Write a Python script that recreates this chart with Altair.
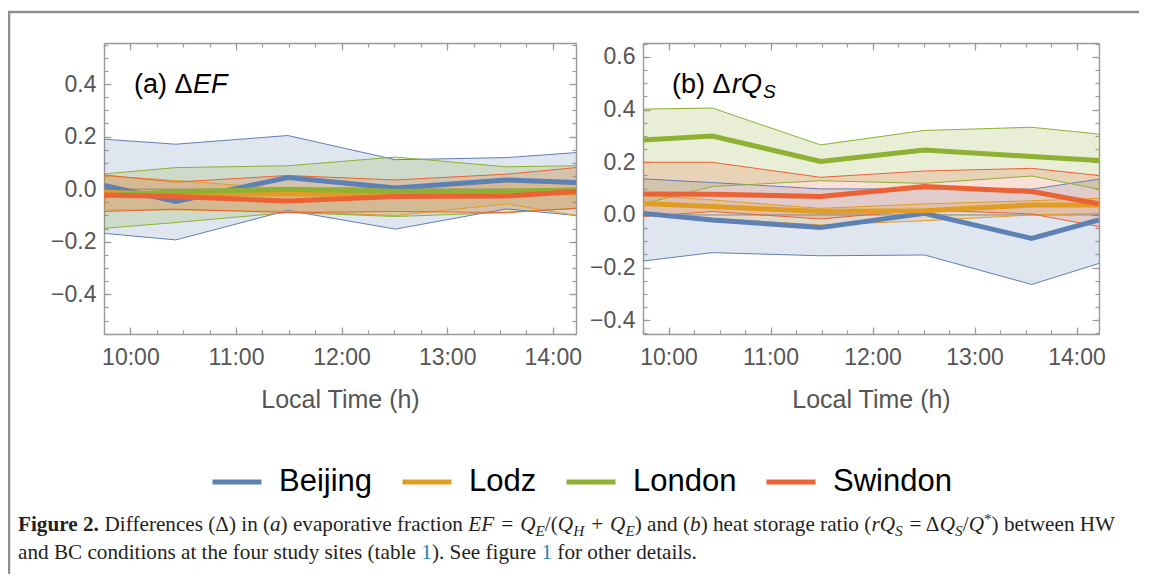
import altair as alt
import pandas as pd

# ---------------- data ----------------
sites = ["Beijing", "Lodz", "London", "Swindon"]
site_colors = ["#5E81B5", "#E19C24", "#8FB032", "#EB6235"]
times = [9.75, 10.43, 11.49, 12.51, 13.56, 14.22]

# (a) delta EF
ef_mean = {
    "Beijing": [0.014, -0.047, 0.044, 0.004, 0.035, 0.025],
    "Lodz":    [-0.013, -0.018, -0.018, -0.020, -0.010, -0.015],
    "London":  [-0.025, -0.010, 0.000, -0.008, -0.008, -0.003],
    "Swindon": [-0.022, -0.028, -0.045, -0.028, -0.026, -0.009],
}
ef_lo = {
    "Beijing": [-0.168, -0.193, -0.081, -0.152, -0.075, -0.100],
    "Lodz":    [-0.079, -0.079, -0.085, -0.100, -0.056, -0.100],
    "London":  [-0.149, -0.127, -0.089, -0.104, -0.089, -0.073],
    "Swindon": [-0.085, -0.076, -0.089, -0.085, -0.089, -0.073],
}
ef_hi = {
    "Beijing": [0.190, 0.171, 0.204, 0.112, 0.120, 0.139],
    "Lodz":    [0.051, 0.033, 0.000, 0.012, 0.028, 0.018],
    "London":  [0.058, 0.082, 0.089, 0.122, 0.085, 0.089],
    "Swindon": [0.054, 0.027, 0.052, 0.035, 0.057, 0.082],
}

# (b) delta rQS
rq_mean = {
    "Beijing": [0.006, -0.019, -0.048, 0.006, -0.089, -0.019],
    "Lodz":    [0.044, 0.032, 0.013, 0.016, 0.038, 0.038],
    "London":  [0.285, 0.300, 0.203, 0.247, 0.222, 0.207],
    "Swindon": [0.080, 0.079, 0.070, 0.108, 0.089, 0.042],
}
rq_lo = {
    "Beijing": [-0.175, -0.143, -0.155, -0.152, -0.264, -0.184],
    "Lodz":    [0.000, -0.013, -0.038, -0.022, 0.000, 0.006],
    "London":  [0.042, 0.108, 0.130, 0.120, 0.148, 0.098],
    "Swindon": [-0.006, 0.013, -0.015, 0.019, 0.004, -0.044],
}
rq_hi = {
    "Beijing": [0.137, 0.123, 0.099, 0.099, 0.098, 0.136],
    "Lodz":    [0.076, 0.057, 0.025, 0.042, 0.054, 0.063],
    "London":  [0.402, 0.406, 0.266, 0.321, 0.333, 0.307],
    "Swindon": [0.200, 0.200, 0.143, 0.167, 0.177, 0.150],
}

x_domain = [9.75, 14.22]
ef_domain = [-0.551, 0.556]
rq_domain = [-0.452, 0.653]
hour_ticks = [10, 11, 12, 13, 14]
quarter_ticks = [10 + 0.25 * i for i in range(-1, 17)]
ef_major = [-0.4, -0.2, 0.0, 0.2, 0.4]
rq_major = [-0.4, -0.2, 0.0, 0.2, 0.4, 0.6]
ef_minor = [round(-0.55 + 0.05 * i, 2) for i in range(23)]
rq_minor = [round(-0.45 + 0.05 * i, 2) for i in range(23)]
x_title = "Local Time (h)"


def long_frame(mean, lo, hi):
    rows = []
    for s in sites:
        for t, m, l, h in zip(times, mean[s], lo[s], hi[s]):
            rows.append({"site": s, "time": t, "mean": m, "lo": l, "hi": h})
    return pd.DataFrame(rows)


df_a = long_frame(ef_mean, ef_lo, ef_hi)
df_b = long_frame(rq_mean, rq_lo, rq_hi)

# ---------------- layout ----------------
W, H = 995, 291
FRAME = "#9a9a9a"
color_scale = alt.Scale(domain=sites, range=site_colors)
one = pd.DataFrame({"k": [0]})

LEGEND = alt.Legend(
    orient="none", legendX=106, legendY=412, direction="horizontal",
    columns=4, symbolType="stroke", symbolSize=2401, symbolStrokeWidth=5,
    symbolOpacity=1, labelFont="Liberation Sans", labelFontSize=31,
    labelColor="black", labelOffset=15, columnPadding=19, padding=0,
    labelLimit=300, title=None)


def tick_axis(orient, offset, size, values):
    return alt.Axis(orient=orient, offset=offset, values=values, ticks=True,
                    tickSize=size, labels=False, domain=False, grid=False,
                    title=None)


def domain_axis(orient, offset):
    return alt.Axis(orient=orient, offset=offset, ticks=False, labels=False,
                    domain=True, grid=False, title=None)


def panel(df, x_range, y_domain, y_major, y_minor, left_base, right_base):
    xs = alt.Scale(domain=x_domain, range=x_range, nice=False, zero=False)
    ys = alt.Scale(domain=y_domain, range=[H, 0], nice=False, zero=False)

    def X(field, axis):
        return alt.X(field, type="quantitative", scale=xs, axis=axis)

    def Y(field, axis):
        return alt.Y(field, type="quantitative", scale=ys, axis=axis)

    ax_lab = alt.Axis(orient="bottom", values=hour_ticks,
                      labelExpr="floor(datum.value) + ':00'", ticks=False,
                      domain=True, labels=True, title=x_title,
                      labelPadding=12, titlePadding=18, grid=False)
    ay_lab = alt.Axis(orient="left", offset=left_base, values=y_major,
                      format=".1f", ticks=False, domain=True, labels=True,
                      labelPadding=8, title=None, grid=False)

    out = []
    # shaded ranges
    for i, (s, c) in enumerate(zip(sites, site_colors)):
        d = df[df["site"] == s]
        out.append(alt.Chart(d).mark_area(opacity=0.2, color=c, clip=True).encode(
            x=X("time", ax_lab if i == 0 else None),
            y=Y("lo", ay_lab if i == 0 else None), y2="hi:Q"))

    # zero reference line
    out.append(alt.Chart(pd.DataFrame({"x0": [x_domain[0]], "x1": [x_domain[1]],
                                       "y": [0.0]})).mark_rule(
        color="#777777", strokeWidth=1, opacity=0.8).encode(
        x=X("x0", None), x2="x1:Q", y=Y("y", None)))

    # thin range borders
    for i, (s, c) in enumerate(zip(sites, site_colors)):
        d = df[df["site"] == s]
        out.append(alt.Chart(d).mark_line(strokeWidth=1, color=c, clip=True).encode(
            x=X("time", domain_axis("top", 0) if i == 0 else None),
            y=Y("hi", domain_axis("right", right_base) if i == 0 else None)))
    for i, (s, c) in enumerate(zip(sites, site_colors)):
        d = df[df["site"] == s]
        out.append(alt.Chart(d).mark_line(strokeWidth=1, color=c, clip=True).encode(
            x=X("time", tick_axis("bottom", -7, 7, hour_ticks) if i == 0 else None),
            y=Y("lo", tick_axis("left", left_base - 7, 7, y_major) if i == 0 else None)))

    # mean lines (carry the legend)
    out.append(alt.Chart(df).mark_line(strokeWidth=5, clip=True).encode(
        x=X("time", tick_axis("bottom", -4, 4, quarter_ticks)),
        y=Y("mean", tick_axis("left", left_base - 4, 4, y_minor)),
        color=alt.Color("site:N", scale=color_scale, legend=LEGEND)))

    # invisible carriers for the top / right ticks
    out.append(alt.Chart(df).mark_point(opacity=0).encode(
        x=X("time", tick_axis("top", -7, 7, hour_ticks)),
        y=Y("mean", tick_axis("right", right_base - 7, 7, y_major))))
    out.append(alt.Chart(df).mark_point(opacity=0).encode(
        x=X("time", tick_axis("top", -4, 4, quarter_ticks)),
        y=Y("mean", tick_axis("right", right_base - 4, 4, y_minor))))
    return out


layers = []
layers += panel(df_a, [0, 472], ef_domain, ef_major, ef_minor, 0, -(W - 472))
layers += panel(df_b, [539, W], rq_domain, rq_major, rq_minor, -539, 0)


def txt(s, x, y, size, font="Liberation Sans", style="normal",
        weight="normal", color="black"):
    return alt.Chart(one).mark_text(
        text=s, align="left", baseline="alphabetic", font=font,
        fontSize=size, fontStyle=style, fontWeight=weight, color=color
    ).encode(x=alt.value(x), y=alt.value(y))


# panel labels
layers += [
    txt("(a) \u0394", 30, 50, 27),
    txt("EF", 89, 50, 27, style="italic"),
    txt("(b) \u0394", 568, 50, 27),
    txt("rQ", 628, 50, 27, style="italic"),
    txt("S", 659, 55, 19, style="italic"),
]

# ---------------- caption ----------------
REG = {" ": 250, "(": 333, ")": 333, "*": 500, "+": 564, ",": 250, ".": 250,
       "/": 278, "=": 564, "\u0394": 612, "A": 722, "B": 667, "C": 667,
       "D": 722, "E": 611, "F": 556, "H": 722, "Q": 722, "S": 556, "W": 944,
       "a": 444, "b": 500, "c": 444, "d": 500, "e": 444, "f": 333, "g": 500,
       "h": 500, "i": 278, "l": 278, "m": 778, "n": 500, "o": 500, "p": 500,
       "r": 333, "s": 389, "t": 278, "u": 500, "v": 500, "w": 722, "y": 500,
       "1": 500, "2": 500}
ITA = {"a": 500, "b": 500, "E": 611, "F": 611, "H": 722, "Q": 722, "S": 500,
       "r": 389}
BLD = {"F": 611, "i": 278, "g": 500, "u": 556, "r": 444, "e": 444, "2": 500,
       ".": 250, " ": 250}

caption_line1 = [
    ("b", "Figure 2."), ("r", " Differences (\u0394) in ("), ("i", "a"),
    ("r", ") evaporative fraction "), ("i", "EF"), ("gap", 7), ("r", "="),
    ("gap", 7), ("i", "Q"),
    ("sub", "E"), ("r", "/("), ("i", "Q"), ("sub", "H"), ("gap", 7), ("r", "+"),
    ("gap", 7), ("i", "Q"), ("sub", "E"), ("r", ") and ("), ("i", "b"),
    ("r", ") heat storage ratio ("), ("i", "rQ"), ("sub", "S"), ("gap", 7),
    ("r", "= \u0394"), ("i", "Q"), ("sub", "S"), ("r", "/"), ("i", "Q"),
    ("sup", "*"), ("r", ") between HW"),
]
caption_line2 = [
    ("r", "and BC conditions at the four study sites (table "), ("link", "1"),
    ("r", "). See figure "), ("link", "1"), ("r", " for other details."),
]

CAP_FS = 21.2
CAP_X = -86
CAP_COLOR = "#231f20"


def seg_width(kind, s):
    if kind == "b":
        table, fs = BLD, CAP_FS
    elif kind == "i":
        table, fs = ITA, CAP_FS
    elif kind == "sub":
        table, fs = ITA, CAP_FS * 0.72
    elif kind == "sup":
        table, fs = REG, CAP_FS * 0.72
    else:
        table, fs = REG, CAP_FS
    return sum(table.get(ch, REG.get(ch, 500)) for ch in s) / 1000 * fs


def caption_layers(segs, base_y):
    out = []
    x = CAP_X
    for kind, s in segs:
        if kind == "gap":
            x += s
            continue
        # leading spaces are not rendered by SVG text: advance x instead
        stripped = s.lstrip(" ")
        lead = len(s) - len(stripped)
        x += seg_width(kind, " " * lead)
        s = stripped
        kw = dict(font="Liberation Serif", color=CAP_COLOR)
        if kind == "b":
            out.append(txt(s, x, base_y, CAP_FS, weight="bold", **kw))
        elif kind == "i":
            out.append(txt(s, x, base_y, CAP_FS, style="italic", **kw))
        elif kind == "sub":
            out.append(txt(s, x, base_y + 4.5, CAP_FS * 0.72, style="italic", **kw))
        elif kind == "sup":
            out.append(txt(s, x, base_y - 7, CAP_FS * 0.72, **kw))
        elif kind == "link":
            out.append(txt(s, x, base_y, CAP_FS, font="Liberation Serif",
                           color="#2b7bb9"))
        else:
            out.append(txt(s, x, base_y, CAP_FS, **kw))
        x += seg_width(kind, s)
    return out


layers += caption_layers(caption_line1, 488)
layers += caption_layers(caption_line2, 516)

# page frame (grey border of the cropped page)
layers += [
    alt.Chart(one).mark_rule(color="#8f8f8f", strokeWidth=2.5).encode(
        x=alt.value(-96), x2=alt.value(1040), y=alt.value(-31)),
    alt.Chart(one).mark_rule(color="#8f8f8f", strokeWidth=2.5).encode(
        x=alt.value(-95), y=alt.value(-31), y2=alt.value(540)),
]

chart = alt.layer(*layers).resolve_scale(
    x="independent", y="independent"
).resolve_axis(
    x="independent", y="independent"
).properties(
    width=W, height=H,
    padding={"left": 96, "top": 35, "right": 40, "bottom": 240},
    autosize=alt.AutoSizeParams(type="none"),
).configure_view(
    stroke=None
).configure_axis(
    labelFont="Liberation Sans", labelFontSize=23, labelColor="#555555",
    titleFont="Liberation Sans", titleFontSize=25, titleFontWeight="normal",
    titleColor="#555555", domainColor=FRAME, domainWidth=1.4,
    tickColor=FRAME, tickWidth=1.2, grid=False, labelFlush=False,
    labelOverlap=False, zindex=1,
)

chart.save("out.html", embed_options={"renderer": "svg", "actions": False})
